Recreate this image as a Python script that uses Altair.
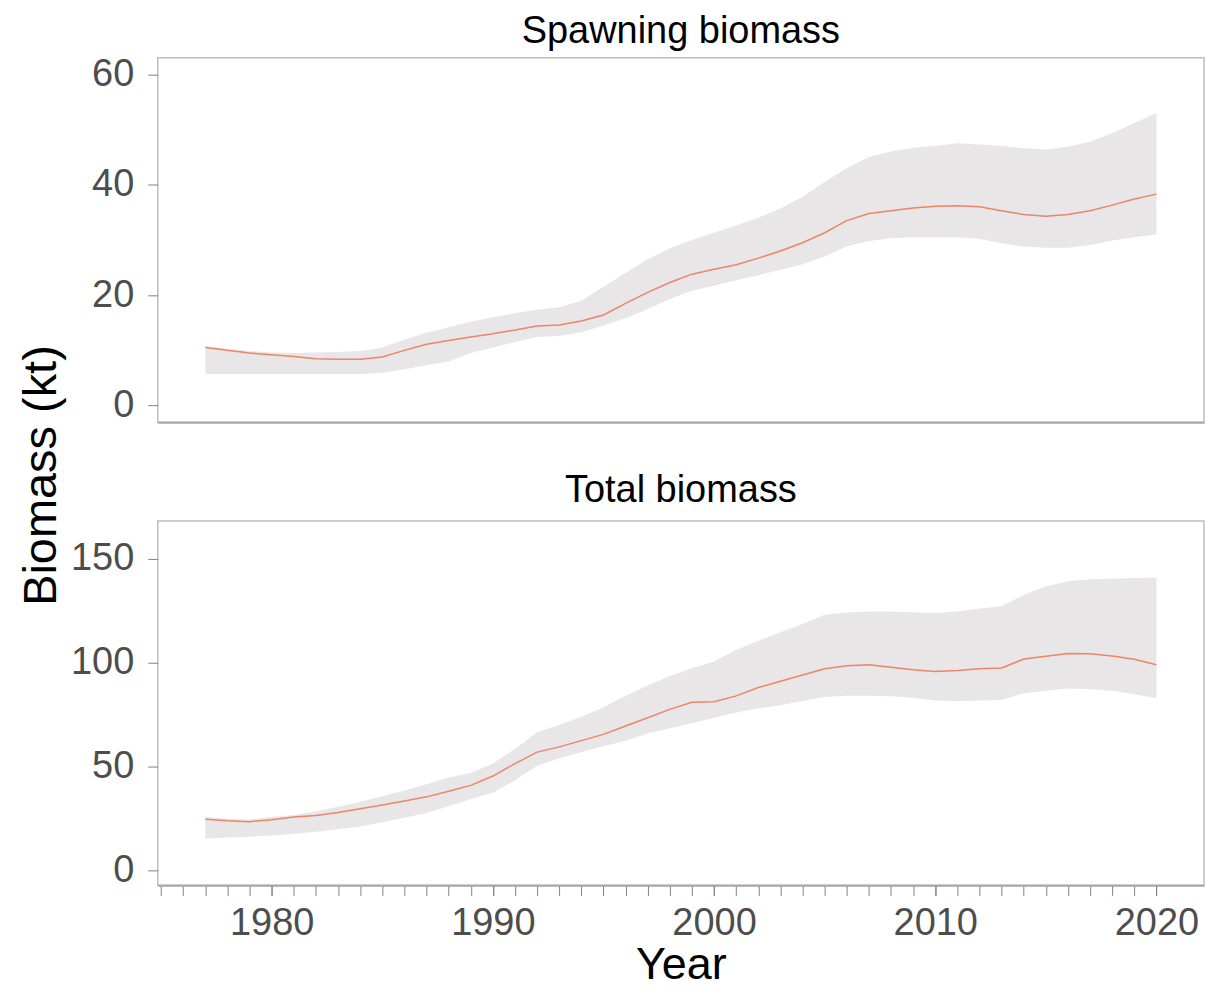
import altair as alt
import pandas as pd

years = list(range(1977, 2021))

# spawning biomass (kt): estimate and interval bounds
ssb = [10.5, 10.0, 9.5, 9.2, 8.9, 8.5, 8.4, 8.4, 8.8, 10.0,
       11.1, 11.8, 12.4, 13.0, 13.7, 14.4, 14.6, 15.3, 16.4, 18.5,
       20.5, 22.3, 23.8, 24.7, 25.5, 26.7, 28.0, 29.5, 31.3, 33.5,
       34.8, 35.3, 35.8, 36.1, 36.2, 36.0, 35.3, 34.6, 34.3, 34.6,
       35.3, 36.3, 37.4, 38.3]
ssb_lo = [5.7, 5.7, 5.7, 5.7, 5.7, 5.7, 5.7, 5.7, 5.9, 6.6,
          7.3, 8.0, 9.5, 10.5, 11.5, 12.4, 12.6, 13.3, 14.5, 15.8,
          17.5, 19.3, 20.8, 21.7, 22.7, 23.6, 24.6, 25.6, 27.0, 28.8,
          29.8, 30.3, 30.5, 30.5, 30.5, 30.2, 29.4, 28.8, 28.6, 28.6,
          29.1, 29.9, 30.5, 31.0]
ssb_hi = [10.8, 10.3, 9.9, 9.6, 9.5, 9.6, 9.7, 9.9, 10.5, 11.9,
          13.2, 14.2, 15.2, 16.0, 16.7, 17.4, 17.8, 19.0, 21.5, 24.0,
          26.5, 28.5, 30.0, 31.3, 32.6, 34.0, 35.7, 37.8, 40.5, 43.0,
          45.0, 46.0, 46.7, 47.0, 47.5, 47.3, 47.0, 46.6, 46.4, 46.9,
          47.8, 49.3, 51.2, 53.0]

# total biomass (kt)
tot = [24.8, 24.0, 23.6, 24.5, 25.8, 26.5, 28.0, 29.8, 31.6, 33.5,
       35.5, 38.2, 41.0, 45.5, 51.5, 57.0, 59.5, 62.5, 65.5, 69.5,
       73.5, 77.5, 80.9, 81.2, 84.0, 88.0, 91.0, 94.0, 97.0, 98.5,
       98.9, 97.8, 96.5, 95.7, 96.2, 97.0, 97.4, 101.7, 103.0, 104.4,
       104.2, 103.2, 101.6, 98.9]
tot_lo = [15.5, 16.0, 16.3, 17.0, 17.8, 18.8, 19.9, 21.3, 23.3, 25.5,
          27.8, 31.0, 34.5, 37.5, 43.5, 50.5, 54.0, 57.0, 59.8, 62.5,
          66.0, 68.5, 70.8, 73.5, 76.0, 78.0, 79.5, 81.5, 83.5, 84.0,
          84.0, 83.8, 83.0, 81.8, 81.5, 81.8, 82.0, 85.2, 86.5, 87.5,
          87.3, 86.5, 84.8, 82.8]
tot_hi = [26.0, 25.0, 24.6, 25.8, 26.8, 28.5, 30.8, 33.0, 35.8, 38.5,
          41.5, 44.8, 47.0, 51.5, 58.5, 66.5, 70.0, 74.0, 78.5, 84.0,
          89.0, 93.5, 97.3, 100.5, 106.0, 110.5, 114.5, 118.5, 123.0, 124.0,
          124.5, 124.5, 124.2, 123.7, 124.5, 126.0, 127.0, 132.5, 136.5, 139.0,
          140.0, 140.3, 140.6, 140.9]

minor_years = list(range(1975, 2021))
major_years = [1980, 1990, 2000, 2010, 2020]

FONT = "Liberation Sans"
GREY_TXT = "#4d4d4d"
X_SCALE = alt.Scale(domain=[1974.85, 2022.15], nice=False, zero=False)


def make_panel(df, title, y_domain, y_ticks, bottom, title_offset):
    if bottom:
        # every year gets a tick, only the decades get a label
        x_minor = alt.Axis(values=minor_years, labels=False, tickSize=10,
                           orient="bottom", title=None)
        x_major = alt.Axis(values=major_years, format="d", tickSize=10,
                           orient="bottom", domain=False,
                           labelFlush=False, labelOverlap=False, labelPadding=9,
                           labelFontSize=38, labelColor=GREY_TXT,
                           title="Year", titleFontSize=45, titlePadding=0,
                           titleFontWeight="normal")
        y_axis = alt.Axis(values=y_ticks, tickSize=10, labelPadding=14,
                          labelFontSize=38, labelColor=GREY_TXT, domain=False,
                          title=None)
    else:
        x_minor = alt.Axis(labels=False, ticks=False, title=None)
        x_major = None
        y_axis = alt.Axis(values=y_ticks, tickSize=10, labelPadding=14,
                          labelFontSize=38, labelColor=GREY_TXT, domain=False,
                          title="Biomass (kt)", titleFontSize=47,
                          titleFontWeight="normal", titleAngle=270,
                          titleX=-116, titleY=418, titleAlign="center",
                          titleBaseline="middle")

    band = (alt.Chart(df).mark_area(color="#e8e6e6")
            .encode(x=alt.X("year:Q", axis=x_minor, scale=X_SCALE),
                    y=alt.Y("lo:Q", axis=y_axis,
                            scale=alt.Scale(domain=y_domain, nice=False, zero=False)),
                    y2="hi:Q"))
    if x_major is not None:
        line_x = alt.X("year:Q", axis=x_major, scale=X_SCALE)
    else:
        line_x = alt.X("year:Q")
    line = (alt.Chart(df).mark_line(color="#ef8466", strokeWidth=1.5)
            .encode(x=line_x, y="mid:Q"))
    panel = alt.layer(band, line)
    if bottom:
        panel = panel.resolve_axis(x="independent")
    return panel.properties(width=1048, height=365,
                            title=alt.TitleParams(title, fontSize=38, font=FONT,
                                                  fontWeight="normal", color="black",
                                                  offset=title_offset))


ssb_df = pd.DataFrame({"year": years, "mid": ssb, "lo": ssb_lo, "hi": ssb_hi})
tot_df = pd.DataFrame({"year": years, "mid": tot, "lo": tot_lo, "hi": tot_hi})

top = make_panel(ssb_df, "Spawning biomass", [-3, 63], [0, 20, 40, 60], False, 4)
low = make_panel(tot_df, "Total biomass", [-7, 168], [0, 50, 100, 150], True, 11)

chart = (alt.vconcat(top, low, spacing=99, bounds="flush")
         .resolve_axis(x="independent")
         .properties(padding={"left": 9, "top": 3, "right": 1, "bottom": 0})
         .configure(font=FONT, background="white")
         .configure_view(stroke="#bdbdbd", strokeWidth=1.5)
         .configure_axis(grid=False, domainColor="#a6a6a6", domainWidth=2,
                         tickColor="#7f7f7f", tickWidth=1, labelFont=FONT,
                         titleFont=FONT, titleColor="black"))

chart.save("out.html", embed_options={"renderer": "svg", "actions": False})
